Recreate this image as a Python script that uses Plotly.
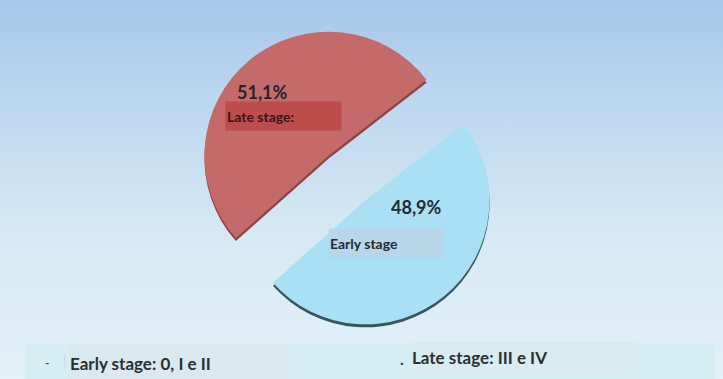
import base64
import plotly.graph_objects as go

# ---- data ----
stages = ["Early stage", "Late stage:"]
shares = [48.9, 51.1]
legend_labels = ["Early stage: 0, I e II", "Late stage: III e IV"]

slice_colors = ["#a9e0f3", "#c46a6a"]
rim_colors = ["#36555d", "#8e4444"]

W, H = 723, 379

def px(x):
    return x / W

def py(y):
    return 1 - y / H

def fmt(v):
    return f"{v:.1f}".replace(".", ",") + "%"

# background gradient as an svg image
svg = f"""<svg xmlns='http://www.w3.org/2000/svg' width='{W}' height='{H}'>
<defs><linearGradient id='g' x1='0' y1='0' x2='0' y2='1'>
<stop offset='0' stop-color='#a7c7e8'/>
<stop offset='0.3' stop-color='#bfd9ef'/>
<stop offset='0.65' stop-color='#d8eaf5'/>
<stop offset='1' stop-color='#e3f1f8'/>
</linearGradient></defs>
<rect width='{W}' height='{H}' fill='url(#g)'/>
</svg>"""
bg_src = "data:image/svg+xml;base64," + base64.b64encode(svg.encode()).decode()

cx, cy, half = 347, 178, 153
dom_x = [px(cx - half - 30), px(cx + half + 30)]
dom_y = [py(cy + half), py(cy - half)]
shift = 3 / H
pull = [0.234, 0.234]
rot = 52.3

fig = go.Figure()
# rim / depth
fig.add_trace(go.Pie(
    labels=[s + " " for s in stages], values=shares, sort=False, direction="clockwise",
    rotation=rot, pull=pull, textinfo="none", hoverinfo="skip",
    marker=dict(colors=rim_colors, line=dict(width=0)),
    domain=dict(x=dom_x, y=[dom_y[0] - shift, dom_y[1] - shift]),
    showlegend=False,
))
fig.add_trace(go.Pie(
    labels=stages, values=shares, sort=False, direction="clockwise",
    rotation=rot, pull=pull, textinfo="none",
    marker=dict(colors=slice_colors, line=dict(width=0)),
    domain=dict(x=dom_x, y=dom_y),
    showlegend=False,
))

font_main = "Lato, 'Open Sans', sans-serif"
ann = []
# percentages
ann.append(dict(x=px(262), y=py(92), xanchor="center", text=f"<b>{fmt(shares[1])}</b>",
                font=dict(size=18, color="#24262a", family=font_main)))
ann.append(dict(x=px(417), y=py(207), xanchor="center", text=f"<b>{fmt(shares[0])}</b>",
                font=dict(size=18, color="#1f2b33", family=font_main)))
# slice label boxes
ann.append(dict(x=px(225), y=py(116), xanchor="left", text=f"<b>{stages[1]}</b>",
                width=113, height=26, align="left", bgcolor="#bd4d4d",
                font=dict(size=14, color="#3a1616", family=font_main)))
ann.append(dict(x=px(328), y=py(243), xanchor="left", text=f"<b>{stages[0]}</b>",
                width=112, height=26, align="left", bgcolor="#b9d6e8",
                font=dict(size=14, color="#1f2b36", family=font_main)))
# bottom legend
ann.append(dict(x=px(47), y=py(362), xanchor="center", text="<b>-</b>",
                font=dict(size=12, color="#555", family=font_main)))
ann.append(dict(x=px(64), y=py(360), xanchor="center", text="|",
                font=dict(size=13, color="#c8d8e0", family=font_main)))
ann.append(dict(x=px(68), y=py(363), xanchor="left", text=f"<b>{legend_labels[0]}</b>",
                width=217, height=32, align="left", bgcolor="#d9e9ef",
                font=dict(size=17, color="#2b2f33", family=font_main)))
ann.append(dict(x=px(402), y=py(358), xanchor="center", text="<b>.</b>",
                font=dict(size=16, color="#333", family=font_main)))
ann.append(dict(x=px(410), y=py(357), xanchor="left", text=f"<b>{legend_labels[1]}</b>",
                width=222, height=29, align="left", bgcolor="#d8ecf2",
                font=dict(size=17, color="#2b2f33", family=font_main)))
for a in ann:
    a.update(xref="paper", yref="paper", showarrow=False, yanchor="middle")

fig.update_layout(
    width=W, height=H, margin=dict(l=0, r=0, t=0, b=0),
    paper_bgcolor="#d9ebf5", plot_bgcolor="rgba(0,0,0,0)",
    images=[dict(source=bg_src, xref="paper", yref="paper", x=0, y=1,
                 sizex=1, sizey=1, sizing="stretch", layer="below",
                 xanchor="left", yanchor="top")],
    shapes=[dict(type="rect", xref="paper", yref="paper",
                 x0=px(25), x1=px(715), y0=0, y1=py(343),
                 fillcolor="#d4eef4", line=dict(width=0), layer="below")],
    annotations=ann,
    separators=",.",
)
fig.write_html("out.html")
